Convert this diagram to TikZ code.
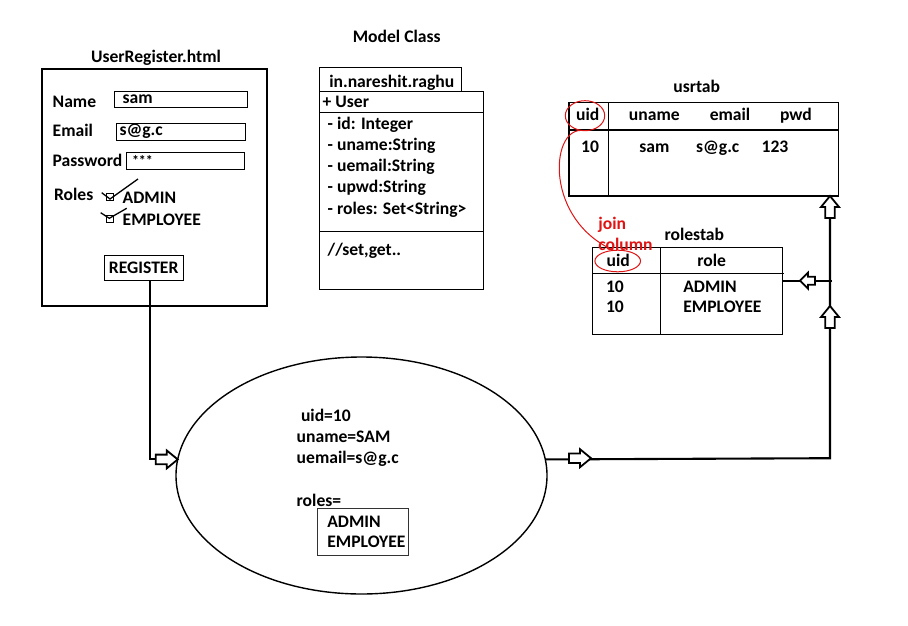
\documentclass[tikz,border=0pt]{standalone}
\usepackage{fontspec}
\setmainfont{Carlito}
\usetikzlibrary{shapes.geometric}
\definecolor{jred}{RGB}{225,20,20}
\begin{document}
\begin{tikzpicture}[x=1pt,y=-1pt,
  every node/.style={font=\fontsize{17.6}{20}\selectfont\bfseries, inner sep=0pt, outer sep=0pt},
  txt/.style={text height=11pt, text depth=0pt},
  lt/.style={txt, anchor=west},
  box/.style={draw, line width=1pt},
  wire/.style={line width=2.1pt},
  blk/.pic={\draw[fill=white, line width=1.8pt, miter limit=10] (0,0) -- (-11,-9) -- (-11,-4.8) -- (-22,-4.8) -- (-22,4.8) -- (-11,4.8) -- (-11,9) -- cycle;},
  blks/.pic={\draw[fill=white, line width=1.8pt, miter limit=10] (0,0) -- (-8,-8) -- (-8,-4) -- (-15,-4) -- (-15,4) -- (-8,4) -- (-8,8) -- cycle;},
]
\useasboundingbox[fill=white] (0,0) rectangle (908,625);

% ---------- form ----------
\node[txt] (formtitle) at (156,57) {UserRegister.html};
\node[draw, line width=2.3pt, minimum width=225pt, minimum height=237pt] (form) at (154.5,187.5) {};
\node[lt] (lname) at (52.7,101.7) {Name};
\node[box, minimum width=133pt, minimum height=16pt] (fname) at (180.5,99) {};
\node[lt] (vname) at (122.7,97.8) {sam};
\node[lt] (lemail) at (52.7,131.2) {Email};
\node[box, minimum width=129pt, minimum height=17pt] (femail) at (180.5,131.5) {};
\node[lt] (vemail) at (119.5,129.8) {s@g.c};
\node[lt] (lpwd) at (52.7,160.5) {Password};
\node[box, minimum width=118pt, minimum height=17pt] (fpwd) at (185,160.5) {};
\node[lt, font=\fontsize{14}{16}\selectfont\bfseries] (vpwd) at (132,159.5) {***};
\node[lt] (lroles) at (54,195.3) {Roles};
\node[draw, line width=0.8pt, minimum size=7pt] (cb1) at (110,196.5) {};
\draw[line width=1.3pt] (101.7,192.7) -- (110,199) -- (138,179);
\node[lt] (vadmin) at (122.7,198.3) {ADMIN};
\node[draw, line width=0.8pt, minimum size=7pt] (cb2) at (109.5,218.5) {};
\draw[line width=1.3pt] (100.7,212.7) -- (109.3,218.3) -- (126.7,208.3);
\node[lt] (vemp) at (122.7,219.5) {EMPLOYEE};
\node[box, minimum width=79.3pt, minimum height=24.7pt] (reg) at (143.7,268.3) {};
\node[txt] (regtxt) at (143.7,268) {REGISTER};

% ---------- model class ----------
\node[txt] (mctitle) at (396.7,36.7) {Model Class};
\node[box, minimum width=142.4pt, minimum height=23.3pt] (pkg) at (390.5,79.35) {};
\node[lt] (pkgtxt) at (329.3,81.7) {in.nareshit.raghu};
\node[box, minimum width=164pt, minimum height=198.3pt] (cls) at (401.3,190.15) {};
\draw[line width=1pt] (cls.west |- 0,112.3) -- (cls.east |- 0,112.3);
\draw[line width=1pt] (cls.west |- 0,231) -- (cls.east |- 0,231);
\node[lt] (cname) at (322.7,102.3) {+ User};
\node[lt] (a1) at (327.7,123.8) {- id: Integer};
\node[lt] (a2) at (327.7,145) {- uname:String};
\node[lt] (a3) at (327.7,166.2) {- uemail:String};
\node[lt] (a4) at (327.7,186.7) {- upwd:String};
\node[lt] (a5) at (327.7,208.8) {- roles: Set<String>};
\node[lt] (m1) at (327.7,250) {//set,get..};

% ---------- usrtab ----------
\node[txt] (usrtitle) at (696.7,86.7) {usrtab};
\node[draw, line width=1.3pt, minimum width=269.3pt, minimum height=93.3pt] (usr) at (703.65,149.35) {};
\draw[line width=1.3pt] (usr.west |- 0,130) -- (usr.east |- 0,130);
\draw[line width=1.3pt] (usr.north -| 608.3,0) -- (usr.south -| 608.3,0);
\node[txt] (h1) at (587.7,115) {uid};
\node[txt] (h2) at (654.3,115) {uname};
\node[txt] (h3) at (730,115) {email};
\node[txt] (h4) at (796,115) {pwd};
\node[txt] (r1) at (590,146.7) {10};
\node[txt] (r2) at (654.3,146.7) {sam};
\node[txt] (r3) at (717.7,146.7) {s@g.c};
\node[txt] (r4) at (775,146.7) {123};

% ---------- rolestab ----------
\node[txt] (roltitle) at (694.3,235.3) {rolestab};
\node[box, minimum width=189.6pt, minimum height=86.7pt] (rol) at (687.5,290.65) {};
\draw[line width=1pt] (rol.west |- 0,273.3) -- ([xshift=1.2pt]rol.east |- 0,273.3);
\draw[line width=1pt] (rol.north -| 660,0) -- (rol.south -| 660,0);
\node[txt] (rh1) at (618.3,261.3) {uid};
\node[txt] (rh2) at (711.7,261.3) {role};
\node[lt] (rr1a) at (606,286.7) {10};
\node[lt] (rr1b) at (683.3,286.7) {ADMIN};
\node[lt] (rr2a) at (606,307.3) {10};
\node[lt] (rr2b) at (683.3,307.3) {EMPLOYEE};

% ---------- join column ----------
\node[ellipse, draw=jred, line width=1pt, minimum width=39.4pt, minimum height=30pt] (ru) at (585,115.7) {};
\node[ellipse, draw=jred, line width=1pt, minimum width=45.6pt, minimum height=21.6pt] (rr) at (617.7,261) {};
\draw[jred, line width=1pt] (ru.255) .. controls (550,130) and (545,220) .. (rr.110);
\node[lt, text=jred] (join1) at (598.3,224.3) {join};
\node[lt, text=jred] (join2) at (598.3,244.5) {column};

% ---------- object ellipse ----------
\node[ellipse, draw, line width=1.4pt, minimum width=371pt, minimum height=237pt] (ell) at (361.5,475.5) {};
\node[lt] (e1) at (301,416) {uid=10};
\node[lt] (e2) at (296.7,436.7) {uname=SAM};
\node[lt] (e3) at (296.7,458.3) {uemail=s@g.c};
\node[lt] (e4) at (296.7,501) {roles=};
\node[draw=black!80, line width=1pt, minimum width=90.6pt, minimum height=47pt] (rbox) at (363,531.5) {};
\node[lt] (e5) at (327.3,521.7) {ADMIN};
\node[lt] (e6) at (327.3,541.7) {EMPLOYEE};

% ---------- connectors ----------
\draw[wire] ([xshift=6.3pt]reg.south) |- (ell.175.8);
\pic at (ell.175.8) {blk};

\coordinate (corner) at (830,458.2);
\draw[wire] (ell.5.4) -- (corner) -- (corner |- usr.south);
\pic at (591,458.2) {blk};
\pic[rotate=90] at (corner |- usr.south) {blk};
\pic[rotate=90] at (830,306) {blk};

\coordinate (jn) at (832,280.7);
\draw[wire] (jn) -- (jn -| rol.east);
\pic[rotate=180] at (800,280.7) {blks};
\end{tikzpicture}
\end{document}
